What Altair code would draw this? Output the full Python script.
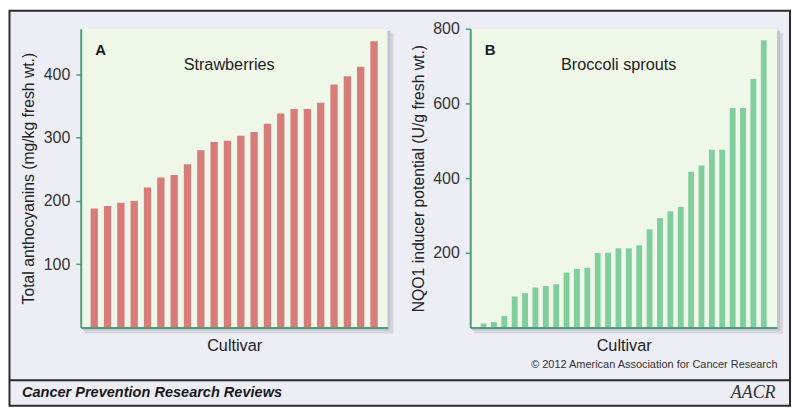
import altair as alt
import pandas as pd

# ---- data ----
strawberry_values = [188, 192, 197, 200, 221, 237, 241, 258, 280, 293, 295, 303,
                     309, 322, 338, 345, 345, 355, 384, 397, 412, 452]
broccoli_values = [11, 15, 31, 83, 92, 107, 111, 116, 147, 157, 160, 200, 200, 212,
                   212, 220, 263, 293, 311, 323, 417, 434, 476, 476, 588, 588, 665, 769]
a_ticks = [100, 200, 300, 400]
b_ticks = [200, 400, 600, 800]
a_ytitle = "Total anthocyanins (mg/kg fresh wt.)"
b_ytitle = "NQO1 inducer potential (U/g fresh wt.)"
a_name = "Strawberries"
b_name = "Broccoli sprouts"
x_title = "Cultivar"
footer_text = "Cancer Prevention Research Reviews"
copyright_text = "\u00a9 2012 American Association for Cancer Research"
logo_text = "AACR"

# ---- style ----
W, H = 308, 300
BG = "#ecedf5"
PLOT_BG = "#eff7e8"
AXIS = "#4f9c7e"
RED = "#d67c7b"
GREEN = "#80cd9d"
DARK = "#2b2b2b"
FONT = "Liberation Sans"


def one(text=""):
    return alt.Chart(pd.DataFrame({"t": [text]}))


def panel(values, color, domain_max, ticks, ytitle, letter, name, pi, po, extra=None):
    df = pd.DataFrame({
        "cultivar": [f"c{i + 1:02d}" for i in range(len(values))],
        "value": values,
    })
    shadow2 = one().mark_rect(color="#d6d6e0").encode(
        x=alt.value(4), x2=alt.value(W + 6), y=alt.value(4), y2=alt.value(H + 6))
    shadow1 = one().mark_rect(color="#c4c4ce").encode(
        x=alt.value(2), x2=alt.value(W + 3), y=alt.value(2), y2=alt.value(H + 3))
    bg = one().mark_rect(color=PLOT_BG).encode(
        x=alt.value(0), x2=alt.value(W), y=alt.value(0), y2=alt.value(H))
    bars = alt.Chart(df).mark_bar(color=color).encode(
        x=alt.X("cultivar:N", sort=None,
                scale=alt.Scale(paddingInner=pi, paddingOuter=po),
                axis=alt.Axis(title=x_title, labels=False, ticks=False,
                              domainColor=AXIS, domainWidth=2,
                              titleFontSize=16.3, titleFontWeight="normal",
                              titleColor="#222222", titleY=18,
                              titleBaseline="middle", titleFont=FONT, zindex=1)),
        y=alt.Y("value:Q",
                scale=alt.Scale(domain=[0, domain_max], nice=False, zero=True),
                axis=alt.Axis(values=ticks, title=ytitle, grid=False,
                              domainColor=AXIS, domainWidth=2,
                              tickColor=AXIS, tickWidth=1.5, tickSize=5,
                              labelFontSize=16, labelColor="#333333", labelPadding=6,
                              labelFont=FONT,
                              titleFontSize=15.8, titleFontWeight="normal",
                              titleColor="#222222", titleFont=FONT,
                              titleX=-52, titleY=H / 2, titleAngle=270,
                              titleAlign="center", titleBaseline="middle", zindex=1)),
    )
    letter_t = one(letter).mark_text(fontSize=15, fontWeight="bold", font=FONT,
                                     color="#1a1a1a", baseline="middle").encode(
        text="t:N", x=alt.value(20), y=alt.value(21))
    name_t = one(name).mark_text(fontSize=16.3, font=FONT, color="#222222",
                                 baseline="middle").encode(
        text="t:N", x=alt.value(149), y=alt.value(36))
    layers = []
    if extra:
        layers.extend(extra)
    layers += [shadow2, shadow1, bg, bars, letter_t, name_t]
    return alt.layer(*layers).properties(width=W, height=H)


frame = one().mark_rect(fill=BG, stroke=DARK, strokeWidth=2).encode(
    x=alt.value(-71.5), x2=alt.value(712), y=alt.value(-18), y2=alt.value(378.5))
sep = one().mark_rule(color=DARK, strokeWidth=2).encode(
    x=alt.value(-71.5), x2=alt.value(712), y=alt.value(353))
footer = one(footer_text).mark_text(fontSize=14.6, fontWeight="bold", fontStyle="italic",
                                    font=FONT, color="#1a1a1a", align="left",
                                    baseline="middle").encode(
    text="t:N", x=alt.value(-59), y=alt.value(366))
copyright_t = one(copyright_text).mark_text(fontSize=11, font=FONT, color="#333333",
                                            align="right", baseline="middle").encode(
    text="t:N", x=alt.value(699.5), y=alt.value(338))
logo = one(logo_text).mark_text(fontSize=18, font="Liberation Serif", fontStyle="italic",
                                color="#333333", align="right", baseline="middle").encode(
    text="t:N", x=alt.value(697.5), y=alt.value(366))

pa = panel(strawberry_values, RED, 472, a_ticks, a_ytitle, "A", a_name, 0.45, 0.74,
           extra=[frame, sep, footer, copyright_t, logo])
pb = panel(broccoli_values, GREEN, 800, b_ticks, b_ytitle, "B", b_name, 0.44, 1.0)

chart = alt.hconcat(pa, pb, spacing=83, bounds="flush").properties(
    padding=0, background="white"
).configure_view(stroke="transparent").configure(font=FONT)

chart.save("out.html", embed_options={"renderer": "svg", "actions": False})
